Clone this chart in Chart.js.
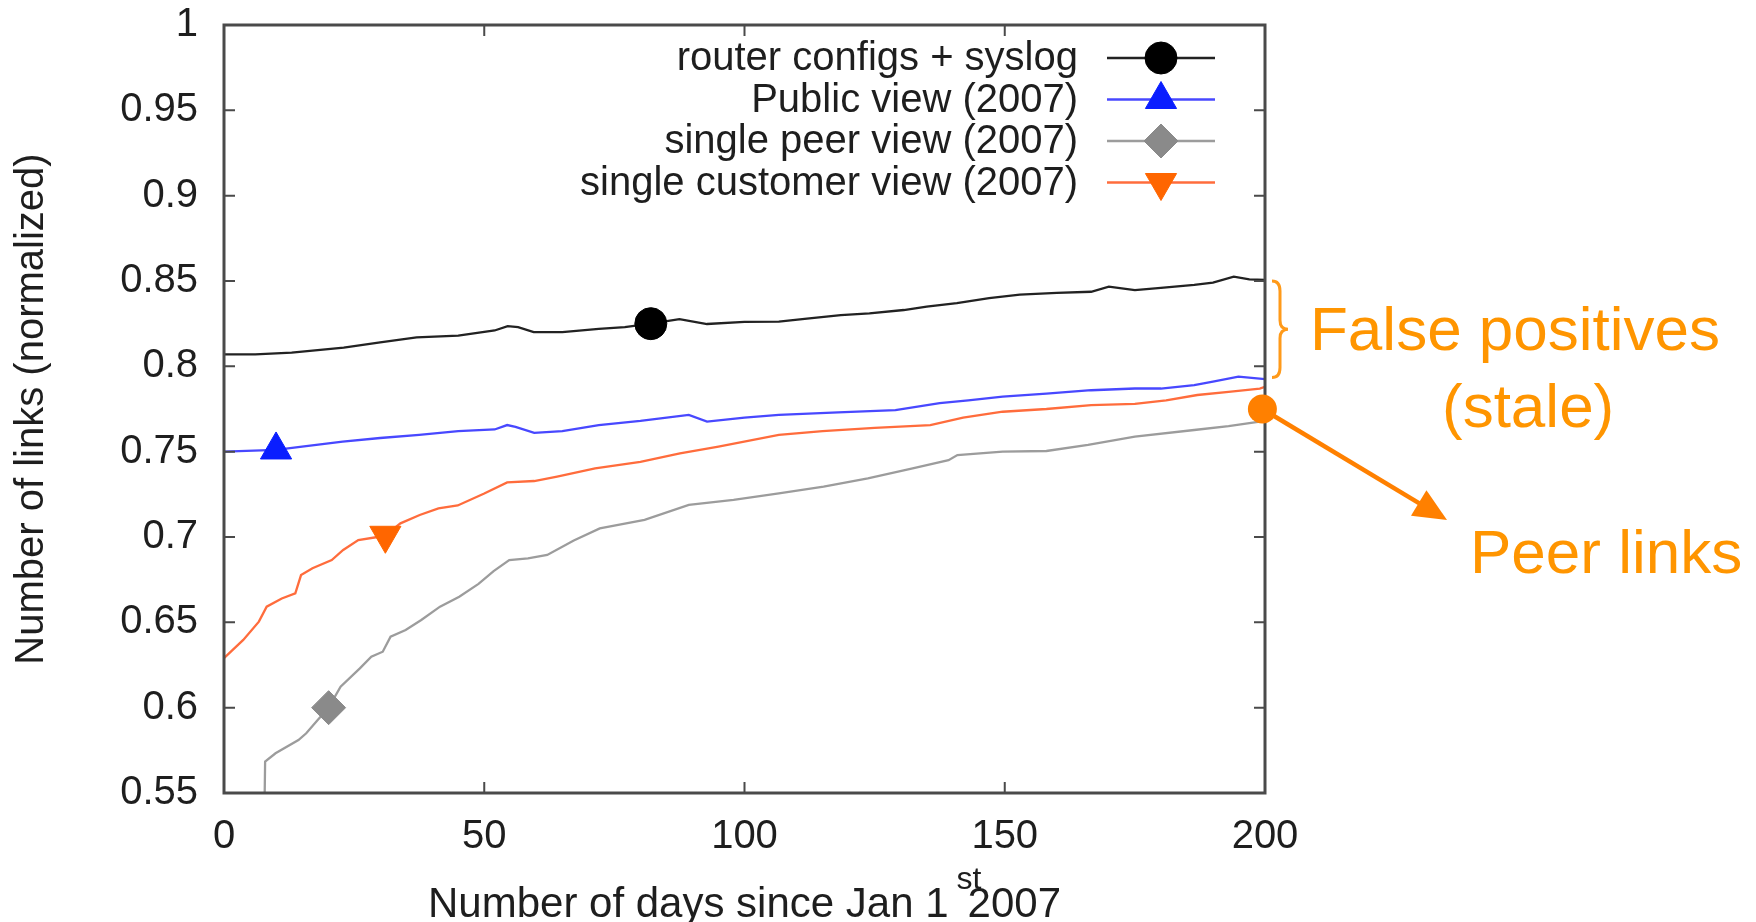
<!DOCTYPE html>
<html><head><meta charset="utf-8">
<script src="https://cdn.jsdelivr.net/npm/chart.js@4/dist/chart.umd.min.js"></script>
<style>html,body{margin:0;padding:0;background:#fff;overflow:hidden}canvas{display:block}</style>
</head><body>
<canvas id="c" width="1756" height="922" style="width:1756px;height:922px"></canvas>
<script>
const FONT = '"Liberation Sans", Arial, Helvetica, sans-serif';

// ---- data ----
const routerDays = [0, 6, 13, 23, 30, 37, 45, 52, 54.5, 56.5, 59.5, 65, 72, 77, 82, 87.5, 92.8, 100, 106.6, 112, 118.5, 124, 130.6, 135, 140.8, 147, 152.9, 160, 166.6, 170, 175, 180, 186.4, 190, 194, 197, 200];
const routerVals = [0.807, 0.807, 0.808, 0.811, 0.814, 0.817, 0.818, 0.821, 0.8236, 0.823, 0.820, 0.820, 0.822, 0.823, 0.825, 0.8277, 0.8248, 0.826, 0.8262, 0.828, 0.830, 0.831, 0.833, 0.835, 0.837, 0.840, 0.842, 0.843, 0.8437, 0.8467, 0.8447, 0.846, 0.8477, 0.849, 0.8525, 0.851, 0.8506];

const publicDays = [0, 10, 15, 22.8, 30, 37.5, 45, 52, 54.4, 56, 59.6, 65, 72, 80, 89.3, 92.8, 100, 106.6, 118, 129, 137.5, 143, 149.6, 158, 166.6, 175, 180, 186.4, 190, 194.9, 200];
const publicVals = [0.750, 0.751, 0.753, 0.7559, 0.758, 0.7598, 0.762, 0.763, 0.7656, 0.7645, 0.761, 0.762, 0.7656, 0.768, 0.7715, 0.7676, 0.770, 0.7715, 0.773, 0.7744, 0.7785, 0.780, 0.7822, 0.784, 0.786, 0.787, 0.787, 0.789, 0.791, 0.794, 0.7925];

const peerDays = [7.6, 7.9, 9.9, 14.3, 15.8, 18, 20.1, 22.4, 26.1, 28.3, 30.5, 32, 34.9, 37.9, 41.5, 45.2, 48.9, 51.8, 54.8, 58.4, 62.1, 67.2, 72.2, 80.8, 89.3, 97.9, 106.6, 115.2, 123.7, 132.3, 139.2, 140.9, 149.6, 158, 166, 175, 186.4, 193, 199, 200];
const peerVals = [0.50, 0.5684, 0.5733, 0.581, 0.585, 0.5928, 0.600, 0.6123, 0.623, 0.6299, 0.6328, 0.6416, 0.6455, 0.6514, 0.6592, 0.665, 0.6725, 0.680, 0.6865, 0.6875, 0.6895, 0.698, 0.705, 0.710, 0.7188, 0.7217, 0.7256, 0.7295, 0.7344, 0.7402, 0.745, 0.748, 0.750, 0.7504, 0.754, 0.7588, 0.7627, 0.765, 0.7676, 0.768];

const customerDays = [0, 3.7, 6.7, 8.2, 11.1, 13.7, 14.8, 17, 20.7, 22.9, 25.8, 29.5, 31, 33.9, 37.6, 41.2, 44.9, 50, 54.4, 59.6, 64, 71.3, 80, 87.6, 95, 106.6, 115, 125, 135.7, 142, 149.6, 158, 166.6, 175, 181, 187, 193, 199, 200];
const customerVals = [0.629, 0.6397, 0.6504, 0.6592, 0.664, 0.667, 0.6777, 0.6817, 0.6865, 0.6924, 0.6982, 0.700, 0.701, 0.708, 0.7129, 0.7168, 0.7185, 0.7255, 0.7320, 0.7328, 0.7354, 0.7402, 0.744, 0.749, 0.753, 0.7598, 0.762, 0.764, 0.7656, 0.770, 0.7734, 0.775, 0.7773, 0.778, 0.780, 0.7832, 0.785, 0.787, 0.788];

// day at which each series shows its marker
const markerDays = [82, 10, 20.1, 31];
const seriesLabels = ['router configs + syslog', 'Public view (2007)', 'single peer view (2007)', 'single customer view (2007)'];

const xTickValues = [0, 50, 100, 150, 200];
const xTickLabels = ['0', '50', '100', '150', '200'];
const yTickValues = [0.55, 0.6, 0.65, 0.7, 0.75, 0.8, 0.85, 0.9, 0.95, 1];
const yTickLabels = ['0.55', '0.6', '0.65', '0.7', '0.75', '0.8', '0.85', '0.9', '0.95', '1'];

const yAxisTitle = 'Number of links (normalized)';
const xTitleMain = 'Number of days since Jan 1';
const xTitleSup = 'st';
const xTitleEnd = '2007';

// annotation overlay (value space of the chart)
const staleTop = 0.85, staleBottom = 0.7935;
const peerDot = {x: 199.5, y: 0.775};

// ---- build ----
function pts(days, vals) { return days.map((d, i) => ({x: d, y: vals[i]})); }
const styles = [
  {line: '#222222', mark: '#000000', style: 'circle', r: 16, rot: 0},
  {line: '#4848ff', mark: '#0a1eff', style: 'triangle', r: 18, rot: 0},
  {line: '#9c9c9c', mark: '#8a8a8a', style: 'rectRot', r: 17, rot: 0},
  {line: '#ff6c3c', mark: '#ff6600', style: 'triangle', r: 18, rot: 180}
];
const seriesData = [pts(routerDays, routerVals), pts(publicDays, publicVals), pts(peerDays, peerVals), pts(customerDays, customerVals)];

const datasets = seriesData.map((d, i) => ({
  label: seriesLabels[i],
  data: d,
  borderColor: styles[i].line,
  borderWidth: 2.3,
  pointStyle: styles[i].style,
  pointRotation: styles[i].rot,
  pointBackgroundColor: styles[i].mark,
  pointBorderColor: styles[i].mark,
  pointBorderWidth: 1,
  pointRadius: c => (c.raw && c.raw.x === markerDays[i]) ? styles[i].r : 0,
  pointHoverRadius: 0,
  tension: 0,
  fill: false,
  order: 4 - i
}));

const framePlugin = {
  id: 'frame',
  afterDatasetsDraw(chart) {
    const {ctx, chartArea: a, scales: {x, y}} = chart;
    ctx.save();
    ctx.strokeStyle = '#4a4a4a';
    ctx.lineWidth = 2;
    const tl = 11;
    ctx.beginPath();
    yTickValues.forEach(v => {
      const py = y.getPixelForValue(v);
      ctx.moveTo(a.left, py); ctx.lineTo(a.left + tl, py);
      ctx.moveTo(a.right, py); ctx.lineTo(a.right - tl, py);
    });
    xTickValues.forEach(v => {
      const px = x.getPixelForValue(v);
      ctx.moveTo(px, a.bottom); ctx.lineTo(px, a.bottom - tl);
      ctx.moveTo(px, a.top); ctx.lineTo(px, a.top + tl);
    });
    ctx.stroke();
    ctx.lineWidth = 3;
    ctx.strokeRect(a.left, a.top, a.right - a.left, a.bottom - a.top);
    // x axis title with superscript
    ctx.fillStyle = '#1e1e1e';
    ctx.textBaseline = 'alphabetic';
    const f1 = '42px ' + FONT, f2 = '32px ' + FONT;
    ctx.font = f1; const w1 = ctx.measureText(xTitleMain).width; const w3 = ctx.measureText(xTitleEnd).width;
    const endGap = 19;
    const total = w1 + endGap + w3;
    const sx = (a.left + a.right) / 2 - total / 2;
    const base = 917;
    ctx.textAlign = 'left';
    ctx.fillText(xTitleMain, sx, base);
    ctx.fillText(xTitleEnd, sx + w1 + endGap, base);
    ctx.font = f2; ctx.fillText(xTitleSup, sx + w1 + 8, base - 28);
    ctx.restore();
  }
};

const legendPlugin = {
  id: 'gpLegend',
  afterDatasetsDraw(chart) {
    const ctx = chart.ctx;
    ctx.save();
    ctx.font = '40px ' + FONT;
    ctx.textAlign = 'right';
    ctx.textBaseline = 'middle';
    const textRight = 1078, lx0 = 1107, lx1 = 1215, mx = 1161;
    chart.data.datasets.forEach((ds, i) => {
      const yy = 58 + i * 41.5;
      ctx.fillStyle = '#1e1e1e';
      ctx.fillText(ds.label, textRight, yy + 1);
      ctx.strokeStyle = ds.borderColor;
      ctx.lineWidth = 2.5;
      ctx.beginPath(); ctx.moveTo(lx0, yy); ctx.lineTo(lx1, yy); ctx.stroke();
      ctx.fillStyle = ds.pointBackgroundColor;
      ctx.strokeStyle = ds.pointBorderColor;
      ctx.lineWidth = 1;
      Chart.helpers.drawPoint(ctx, {pointStyle: ds.pointStyle, rotation: ds.pointRotation, radius: styles[i].r, borderWidth: 1}, mx, yy);
    });
    ctx.restore();
  }
};

const annotPlugin = {
  id: 'annot',
  afterDraw(chart) {
    const {ctx, chartArea: a, scales: {x, y}} = chart;
    ctx.save();
    // brace
    const bt = y.getPixelForValue(staleTop), bb = y.getPixelForValue(staleBottom);
    const bx = a.right + 7, bm = (bt + bb) / 2, bw = 8;
    ctx.strokeStyle = '#ff9a1a';
    ctx.lineWidth = 3;
    ctx.beginPath();
    ctx.moveTo(bx, bt);
    ctx.quadraticCurveTo(bx + bw, bt, bx + bw, bt + 10);
    ctx.lineTo(bx + bw, bm - 9);
    ctx.quadraticCurveTo(bx + bw, bm, bx + bw * 2, bm);
    ctx.quadraticCurveTo(bx + bw, bm, bx + bw, bm + 9);
    ctx.lineTo(bx + bw, bb - 10);
    ctx.quadraticCurveTo(bx + bw, bb, bx, bb);
    ctx.stroke();
    // dot + arrow
    const dx = x.getPixelForValue(peerDot.x), dy = y.getPixelForValue(peerDot.y);
    const tipX = 1447, tipY = 520;
    const vx = tipX - dx, vy = tipY - dy, L = Math.hypot(vx, vy), ux = vx / L, uy = vy / L;
    const hl = 33, hw = 15;
    ctx.strokeStyle = '#ff8000';
    ctx.fillStyle = '#ff8000';
    ctx.lineWidth = 4.5;
    ctx.beginPath(); ctx.moveTo(dx, dy); ctx.lineTo(tipX - ux * hl * 0.8, tipY - uy * hl * 0.8); ctx.stroke();
    ctx.beginPath();
    ctx.moveTo(tipX, tipY);
    ctx.lineTo(tipX - ux * hl - uy * hw, tipY - uy * hl + ux * hw);
    ctx.lineTo(tipX - ux * hl + uy * hw, tipY - uy * hl - ux * hw);
    ctx.closePath(); ctx.fill();
    ctx.beginPath(); ctx.arc(dx, dy, 14.5, 0, Math.PI * 2); ctx.fill();
    // texts
    ctx.fillStyle = '#ff9500';
    ctx.font = '62px ' + FONT;
    ctx.textAlign = 'left';
    ctx.textBaseline = 'alphabetic';
    ctx.fillText('False positives', 1310, 350);
    ctx.fillText('(stale)', 1442, 427);
    ctx.fillText('Peer links', 1470, 573);
    ctx.restore();
  }
};

new Chart(document.getElementById('c').getContext('2d'), {
  type: 'line',
  data: {datasets},
  options: {
    responsive: false,
    animation: false,
    devicePixelRatio: 1,
    layout: {padding: {left: 0, right: 491, top: 25, bottom: 0}},
    scales: {
      x: {
        type: 'linear', min: 0, max: 200,
        grid: {display: false, drawTicks: false},
        border: {display: false},
        ticks: {stepSize: 50, padding: 20, color: '#1e1e1e', font: {family: FONT, size: 40},
          maxRotation: 0, callback: v => xTickLabels[xTickValues.indexOf(v)] ?? ''},
        afterFit: s => { s.height = 129; s.paddingLeft = 0; s.paddingRight = 0; }
      },
      y: {
        type: 'linear', min: 0.55, max: 1,
        grid: {display: false, drawTicks: false},
        border: {display: false},
        ticks: {stepSize: 0.05, padding: 26, color: '#1e1e1e', font: {family: FONT, size: 40},
          callback: v => yTickLabels[Math.round((v - 0.55) / 0.05)] ?? ''},
        title: {display: true, text: yAxisTitle, color: '#1e1e1e', font: {family: FONT, size: 40}, padding: {top: 8, bottom: 0}},
        afterFit: s => { s.width = 224; s.paddingTop = 0; s.paddingBottom = 0; }
      }
    },
    plugins: {legend: {display: false}, tooltip: {enabled: false}, title: {display: false}}
  },
  plugins: [framePlugin, legendPlugin, annotPlugin]
});
</script>
</body></html>
